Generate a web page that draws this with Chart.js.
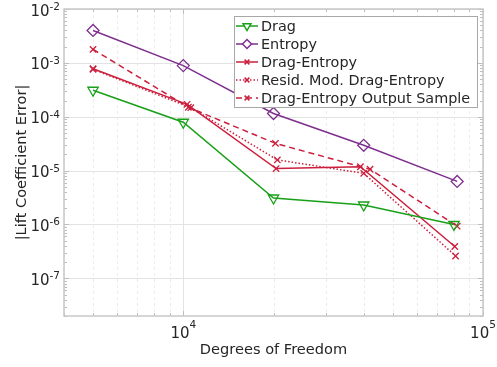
<!DOCTYPE html>
<html>
<head>
<meta charset="utf-8">
<script src="https://cdn.jsdelivr.net/npm/chart.js@4/dist/chart.umd.min.js"></script>
<style>
  html, body { margin: 0; padding: 0; background: #fff; }
  #wrap { width: 497px; height: 367px; }
</style>
</head>
<body>
<div id="wrap"><canvas id="chart"></canvas></div>
<script>
// Data (log-log)
const dragDof = [5000, 10000, 20000, 40000, 80000];
const dragErr = [3.1e-4, 7.9e-5, 3.1e-6, 2.3e-6, 1.0e-6];

const entropyDof = [5000, 10000, 20000, 40000, 82000];
const entropyErr = [4.0e-3, 8.9e-4, 1.15e-4, 2.95e-5, 6.3e-6];

const dragEntDof = [5000, 10300, 20400, 39000, 80500];
const dragEntErr = [7.8e-4, 1.7e-4, 1.09e-5, 1.18e-5, 3.9e-7];

const residDof = [5000, 10600, 20600, 40000, 81000];
const residErr = [7.6e-4, 1.47e-4, 1.58e-5, 8.9e-6, 2.6e-7];

const sampleDof = [5000, 10400, 20300, 42000, 82000];
const sampleErr = [1.78e-3, 1.5e-4, 3.2e-5, 1.06e-5, 9.3e-7];

// tick labels: value -> exponent of 10
const xTickExp = [[1e4, '4'], [1e5, '5']];
const yTickExp = [[1e-2, '-2'], [1e-3, '-3'], [1e-4, '-4'], [1e-5, '-5'], [1e-6, '-6'], [1e-7, '-7']];

const GREEN = '#19a019';
const PURPLE = '#7e2f8e';
const RED = '#cc1f3d';
const TEXT = '#262626';
const FONT = '"DejaVu Sans", sans-serif';

const pts = (xs, ys) => xs.map((x, i) => ({ x: x, y: ys[i] }));

// all 1..9 multiples inside [lo, hi]
const logTicks = (lo, hi) => {
    const out = [];
    for (let e = Math.floor(Math.log10(lo)); e <= Math.ceil(Math.log10(hi)); e++) {
        for (let m = 1; m < 10; m++) {
            const v = m * Math.pow(10, e);
            if (v >= lo * 0.999 && v <= hi * 1.001) out.push(v);
        }
    }
    return out;
};
const isMajor = v => Math.abs(Math.log10(v) - Math.round(Math.log10(v))) < 1e-6;

// Grid, inner ticks and box like the original figure
const frame = {
    id: 'frame',
    beforeDatasetsDraw(chart) {
        const { ctx, chartArea: a, scales } = chart;
        ctx.save();
        ctx.lineWidth = 1;
        scales.x.ticks.forEach(t => {
            const px = Math.round(scales.x.getPixelForValue(t.value)) + 0.5;
            ctx.strokeStyle = isMajor(t.value) ? '#e3e3e3' : '#ececec';
            ctx.setLineDash(isMajor(t.value) ? [] : [3, 3]);
            ctx.beginPath(); ctx.moveTo(px, a.top); ctx.lineTo(px, a.bottom); ctx.stroke();
        });
        ctx.setLineDash([]);
        scales.y.ticks.forEach(t => {
            if (!isMajor(t.value)) return;
            const py = Math.round(scales.y.getPixelForValue(t.value)) + 0.5;
            ctx.strokeStyle = '#e3e3e3';
            ctx.beginPath(); ctx.moveTo(a.left, py); ctx.lineTo(a.right, py); ctx.stroke();
        });
        ctx.restore();
    },
    afterDatasetsDraw(chart) {
        const { ctx, chartArea: a, scales } = chart;
        ctx.save();
        ctx.strokeStyle = '#bdbdbd';
        ctx.lineWidth = 1;
        scales.x.ticks.forEach(t => {
            const px = Math.round(scales.x.getPixelForValue(t.value)) + 0.5;
            const len = isMajor(t.value) ? 5 : 3;
            ctx.beginPath();
            ctx.moveTo(px, a.bottom); ctx.lineTo(px, a.bottom - len);
            ctx.moveTo(px, a.top); ctx.lineTo(px, a.top + len);
            ctx.stroke();
        });
        scales.y.ticks.forEach(t => {
            const py = Math.round(scales.y.getPixelForValue(t.value)) + 0.5;
            const len = isMajor(t.value) ? 5 : 3;
            ctx.beginPath();
            ctx.moveTo(a.left, py); ctx.lineTo(a.left + len, py);
            ctx.moveTo(a.right, py); ctx.lineTo(a.right - len, py);
            ctx.stroke();
        });
        ctx.strokeStyle = '#c8c8c8';
        ctx.lineWidth = 1.5;
        ctx.strokeRect(a.left, a.top, a.right - a.left, a.bottom - a.top);

        // tick labels as 10 with superscript exponent
        ctx.fillStyle = TEXT;
        ctx.textBaseline = 'alphabetic';
        const base = '15px ' + FONT, sup = '10.5px ' + FONT;
        yTickExp.forEach(([v, ex]) => {
            const py = scales.y.getPixelForValue(v);
            ctx.font = sup;
            const ew = ctx.measureText(ex).width;
            ctx.textAlign = 'right';
            ctx.fillText(ex, a.left - 4, py + 1);
            ctx.font = base;
            ctx.fillText('10', a.left - 4 - ew, py + 6.5);
        });
        xTickExp.forEach(([v, ex]) => {
            const px = scales.x.getPixelForValue(v);
            ctx.font = base;
            const bw = ctx.measureText('10').width;
            ctx.font = sup;
            const ew = ctx.measureText(ex).width;
            const left = px - (bw + ew) / 2;
            ctx.textAlign = 'left';
            ctx.font = base;
            ctx.fillText('10', left, 338);
            ctx.font = sup;
            ctx.fillText(ex, left + bw, 328);
        });

        // axis titles
        ctx.font = '14.6px ' + FONT;
        ctx.textAlign = 'center';
        ctx.textBaseline = 'middle';
        ctx.fillText('Degrees of Freedom', (a.left + a.right) / 2, 350);
        ctx.translate(22, 162.5);
        ctx.rotate(-Math.PI / 2);
        ctx.fillText('|Lift Coefficient Error|', 0, 0);
        ctx.restore();
    }
};

// MATLAB-style boxed legend in the top right
const boxLegend = {
    id: 'boxLegend',
    afterDraw(chart) {
        const ctx = chart.ctx;
        const x0 = 234, y0 = 16, w = 243, rowH = 18;
        const sets = chart.data.datasets;
        const h = rowH * sets.length + 1;
        ctx.save();
        ctx.fillStyle = '#fff';
        ctx.fillRect(x0, y0, w, h);
        ctx.strokeStyle = '#a8a8a8';
        ctx.lineWidth = 1;
        ctx.strokeRect(x0 + 0.5, y0 + 0.5, w, h);
        sets.forEach((ds, i) => {
            const cy = y0 + 10 + i * rowH;
            ctx.strokeStyle = ds.borderColor;
            ctx.lineWidth = ds.borderWidth;
            ctx.setLineDash(ds.borderDash || []);
            ctx.beginPath(); ctx.moveTo(x0 + 2, cy); ctx.lineTo(x0 + 24, cy); ctx.stroke();
            ctx.setLineDash([]);
            ctx.fillStyle = '#fff';
            Chart.helpers.drawPoint(ctx, {
                pointStyle: ds.pointStyle,
                radius: ds.pointRadius * 0.75,
                rotation: ds.pointRotation || 0,
                borderWidth: ds.pointBorderWidth
            }, x0 + 13, cy);
            ctx.fillStyle = TEXT;
            ctx.font = '14.4px ' + FONT;
            ctx.textBaseline = 'middle';
            ctx.textAlign = 'left';
            ctx.fillText(ds.label, x0 + 27, cy + 1);
        });
        ctx.restore();
    }
};

const series = (label, data, color, style, extra) => Object.assign({
    label: label,
    data: data,
    showLine: true,
    borderColor: color,
    backgroundColor: 'rgba(255,255,255,0)',
    borderWidth: 1.5,
    pointStyle: style,
    pointBorderColor: color,
    pointBackgroundColor: 'rgba(255,255,255,0)',
    pointBorderWidth: 1.3,
    pointRadius: 5
}, extra || {});

new Chart(document.getElementById('chart'), {
    type: 'scatter',
    data: {
        datasets: [
            series('Drag', pts(dragDof, dragErr), GREEN, 'triangle', { pointRotation: 180, pointRadius: 6 }),
            series('Entropy', pts(entropyDof, entropyErr), PURPLE, 'rectRot', { pointRadius: 6 }),
            series('Drag-Entropy', pts(dragEntDof, dragEntErr), RED, 'crossRot', { pointRadius: 4.5 }),
            series('Resid. Mod. Drag-Entropy', pts(residDof, residErr), RED, 'crossRot', { pointRadius: 4.5, borderDash: [1.5, 2] }),
            series('Drag-Entropy Output Sample', pts(sampleDof, sampleErr), RED, 'crossRot', { pointRadius: 4.5, borderDash: [6, 4] })
        ]
    },
    options: {
        responsive: true,
        maintainAspectRatio: false,
        animation: false,
        layout: { padding: { top: 9, right: 14, left: 0, bottom: 0 } },
        plugins: {
            legend: { display: false },
            tooltip: { enabled: false }
        },
        scales: {
            x: {
                type: 'logarithmic',
                min: 4000,
                max: 100000,
                afterBuildTicks: s => { s.ticks = logTicks(4000, 100000).map(v => ({ value: v })); },
                afterFit: s => { s.height = 51; },
                grid: { display: false },
                border: { display: false },
                ticks: { display: false }
            },
            y: {
                type: 'logarithmic',
                min: 2e-8,
                max: 1e-2,
                afterBuildTicks: s => { s.ticks = logTicks(2e-8, 1e-2).map(v => ({ value: v })); },
                afterFit: s => { s.width = 64; },
                grid: { display: false },
                border: { display: false },
                ticks: { display: false }
            }
        }
    },
    plugins: [frame, boxLegend]
});
</script>
</body>
</html>
